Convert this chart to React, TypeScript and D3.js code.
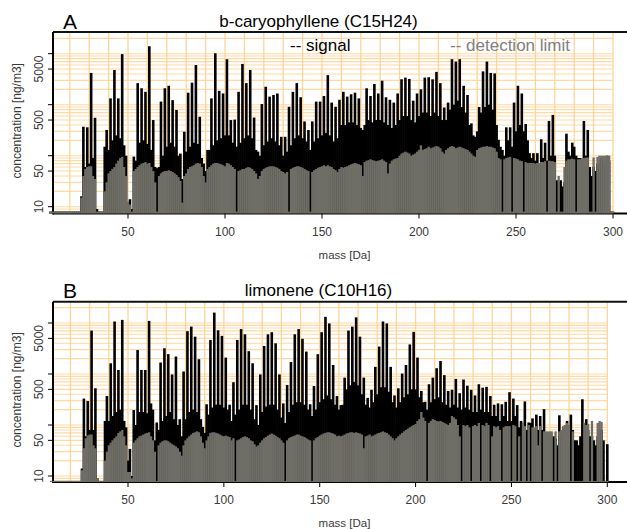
import React from "react";
import * as d3 from "d3";

// masses start at 10 Da, one value per integer mass up to 300 Da
const massStart = 10;

const signalA = [
  8, 8, 8, 8, 8, 8, 8, 8, 8, 8,
  8, 8, 8, 8, 8, 8, 16, 370, 60, 360,
  70, 4200, 90, 555, 9, 8, 8, 8, 150, 320,
  130, 1330, 200, 4800, 250, 1330, 220, 9800, 160, 100,
  12, 14, 9, 96, 80, 2650, 180, 2100, 200, 1790,
  170, 14000, 130, 500, 60, 57, 60, 1150, 100, 2100,
  150, 2350, 180, 1230, 150, 790, 100, 110, 35, 295,
  120, 1720, 150, 2700, 180, 6000, 170, 580, 90, 70,
  50, 130, 130, 1330, 160, 10200, 200, 1870, 220, 1660,
  250, 7800, 250, 500, 180, 510, 150, 1790, 180, 6300,
  220, 2650, 250, 4800, 220, 560, 130, 120, 100, 1030,
  160, 2250, 190, 1440, 220, 1550, 190, 1660, 160, 235,
  100, 235, 120, 910, 160, 1790, 220, 2650, 250, 1400,
  220, 470, 190, 320, 130, 470, 190, 1150, 220, 1150,
  250, 1480, 280, 3800, 250, 1100, 190, 910, 220, 1250,
  400, 1790, 400, 1440, 450, 1600, 450, 1720, 400, 1330,
  350, 320, 400, 2100, 500, 1480, 450, 2550, 500, 1660,
  500, 2950, 450, 1400, 400, 1250, 350, 1100, 400, 1660,
  500, 3150, 600, 3400, 600, 3200, 500, 1200, 450, 1660,
  600, 2000, 700, 3400, 700, 3450, 600, 3150, 700, 4400,
  600, 2650, 500, 880, 500, 1100, 800, 7800, 1000, 7000,
  1200, 7800, 900, 2350, 700, 1550, 400, 430, 250, 235,
  300, 900, 700, 4500, 900, 7000, 1000, 4200, 800, 4100,
  400, 205, 150, 130, 100, 360, 200, 360, 150, 1100,
  300, 2350, 400, 1660, 300, 420, 200, 112, 90, 112,
  80, 112, 70, 210, 90, 180, 80, 480, 100, 630,
  100, 33, 30, 33, 25, 30, 270, 120, 100, 180,
  150, 100, 90, 90, 80, 480, 100, 320, 60, 40,
  60, 50, 70, 60, 90, 80, 70, 90, 80, 8,
  8,
];

const detectionA = [
  8, 8, 8, 8, 8, 8, 8, 8, 8, 8,
  8, 8, 8, 8, 8, 8, 15, 40, 55, 60,
  62, 62, 40, 35, 8, 8, 8, 8, 20, 30,
  45, 50, 55, 60, 70, 80, 90, 95, 60, 40,
  12, 11, 8, 50, 55, 60, 65, 70, 72, 75,
  70, 72, 60, 50, 30, 8, 40, 45, 48, 50,
  50, 52, 50, 48, 45, 42, 38, 32, 12, 40,
  45, 55, 60, 62, 65, 70, 72, 70, 60, 40,
  30, 55, 60, 65, 70, 72, 72, 70, 68, 65,
  62, 72, 70, 65, 60, 55, 8, 50, 52, 55,
  55, 58, 60, 58, 55, 50, 45, 35, 40, 50,
  55, 58, 60, 62, 62, 62, 60, 58, 55, 50,
  48, 45, 48, 8, 55, 58, 60, 62, 62, 60,
  58, 55, 52, 50, 8, 48, 52, 55, 58, 60,
  62, 65, 62, 65, 62, 60, 55, 52, 48, 55,
  60, 58, 60, 62, 65, 68, 70, 72, 70, 68,
  65, 40, 75, 80, 82, 85, 82, 80, 78, 80,
  82, 85, 80, 75, 45, 70, 80, 85, 88, 90,
  100, 110, 115, 120, 115, 110, 100, 105, 110, 120,
  130, 160, 130, 135, 140, 150, 140, 145, 150, 155,
  150, 140, 120, 110, 130, 140, 150, 155, 150, 140,
  145, 150, 145, 140, 135, 130, 120, 110, 100, 95,
  130, 140, 145, 150, 150, 155, 150, 150, 145, 140,
  120, 90, 85, 8, 85, 90, 92, 95, 8, 90,
  88, 85, 80, 78, 8, 75, 72, 72, 72, 72,
  70, 72, 72, 75, 75, 78, 8, 80, 78, 78,
  75, 8, 40, 8, 8, 60, 80, 85, 85, 88,
  85, 8, 85, 85, 90, 90, 92, 92, 8, 8,
  92, 8, 95, 100, 100, 100, 100, 102, 100, 8,
  8,
];

const signalB = [
  8, 8, 8, 8, 8, 8, 8, 8, 8, 8,
  8, 8, 8, 8, 8, 8, 14, 330, 60, 295,
  80, 7100, 80, 525, 9, 8, 8, 8, 120, 370,
  120, 1620, 150, 10700, 180, 1200, 200, 11500, 120, 90,
  20, 34, 10, 196, 100, 2950, 180, 1200, 180, 1200,
  170, 11000, 265, 200, 50, 112, 80, 1680, 120, 3200,
  150, 2450, 180, 980, 130, 2200, 100, 130, 60, 1120,
  130, 6900, 180, 8500, 200, 5400, 180, 1950, 130, 92,
  70, 255, 160, 4650, 220, 16000, 250, 7200, 250, 5600,
  220, 2100, 200, 250, 120, 690, 160, 4650, 200, 7600,
  250, 6000, 250, 2800, 200, 1620, 130, 245, 100, 980,
  180, 3550, 230, 6000, 250, 6600, 250, 4000, 200, 980,
  140, 265, 110, 610, 180, 1720, 250, 6000, 280, 7600,
  280, 4900, 250, 2750, 200, 255, 150, 580, 200, 2450,
  280, 6600, 320, 13200, 380, 9800, 320, 1500, 250, 370,
  200, 245, 250, 850, 500, 7100, 600, 8500, 700, 12900,
  600, 5400, 400, 850, 250, 340, 220, 490, 280, 1380,
  400, 3450, 550, 10700, 550, 9800, 450, 1380, 280, 380,
  220, 525, 280, 1020, 350, 1500, 400, 3800, 500, 6700,
  500, 2100, 350, 465, 280, 285, 200, 630, 280, 850,
  320, 1300, 350, 1800, 280, 950, 250, 465, 220, 490,
  250, 800, 220, 420, 200, 780, 220, 590, 200, 490,
  180, 380, 180, 630, 200, 540, 180, 560, 180, 370,
  150, 250, 150, 265, 120, 255, 150, 285, 120, 440,
  120, 330, 150, 245, 90, 120, 110, 290, 80, 112,
  110, 135, 80, 160, 80, 150, 80, 205, 70, 60,
  60, 60, 60, 55, 40, 155, 60, 90, 100, 120,
  100, 160, 80, 50, 50, 40, 60, 320, 100, 130,
  80, 60, 60, 50, 40, 60, 80, 80, 50, 8,
  42,
];

const detectionB = [
  8, 8, 8, 8, 8, 8, 8, 8, 8, 8,
  8, 8, 8, 8, 8, 8, 13, 35, 55, 62,
  65, 65, 40, 35, 9, 8, 8, 8, 20, 30,
  40, 45, 50, 55, 60, 70, 75, 80, 60, 40,
  12, 12, 9, 45, 50, 55, 60, 62, 65, 68,
  70, 72, 60, 50, 30, 8, 40, 45, 48, 50,
  50, 48, 45, 42, 40, 38, 35, 30, 25, 40,
  50, 55, 60, 65, 70, 72, 75, 72, 60, 45,
  35, 50, 60, 70, 72, 72, 70, 68, 65, 62,
  60, 62, 60, 58, 50, 55, 8, 50, 52, 55,
  58, 60, 58, 55, 50, 48, 42, 38, 40, 45,
  50, 55, 58, 62, 65, 68, 65, 62, 58, 55,
  50, 45, 8, 50, 55, 58, 60, 62, 65, 65,
  62, 60, 58, 55, 52, 50, 8, 50, 55, 58,
  62, 65, 68, 70, 72, 72, 70, 68, 65, 60,
  62, 60, 62, 65, 68, 70, 72, 72, 70, 72,
  70, 68, 65, 35, 60, 62, 65, 60, 62, 65,
  68, 70, 72, 75, 72, 70, 65, 60, 55, 50,
  55, 60, 65, 70, 75, 80, 85, 90, 95, 100,
  105, 120, 130, 180, 140, 120, 8, 110, 120, 130,
  125, 120, 118, 120, 115, 110, 105, 100, 110, 150,
  140, 130, 100, 60, 8, 100, 95, 100, 90, 8,
  95, 100, 95, 110, 8, 100, 95, 110, 100, 8,
  60, 95, 90, 95, 80, 8, 90, 95, 95, 95,
  8, 100, 95, 8, 60, 8, 110, 95, 8, 100,
  8, 90, 90, 95, 40, 95, 8, 75, 75, 75,
  75, 75, 8, 75, 8, 75, 80, 95, 100, 110,
  100, 8, 75, 8, 8, 8, 8, 8, 110, 100,
  105, 8, 120, 8, 8, 110, 120, 115, 8, 8,
  8,
];

const xTicks = [50, 100, 150, 200, 250, 300];
const yTicks = [10, 50, 100, 500, 1000, 5000, 10000];
const yTickLabels = [10, 50, 500, 5000];

const panels = [
  { letter: "A", title: "b-caryophyllene (C15H24)", signal: signalA, detection: detectionA, top: 32, bottom: 213.5, y10: 206.7, x50: 128, x300: 613, legend: true },
  { letter: "B", title: "limonene (C10H16)", signal: signalB, detection: detectionB, top: 301.7, bottom: 482, y10: 476, x50: 128, x300: 607.3, legend: false },
];

const FONT = "'Liberation Sans', Arial, sans-serif";
const GRAY = "#6f6e66";
const GRID_H = "#ffdaa6";
const GRID_V = "#ffd49a";
const W = 627;
const H = 529;
const LEFT = 53;

function Panel({ p }: { p: typeof panels[number] }) {
  const x = d3.scaleLinear().domain([50, 300]).range([p.x50, p.x300]);
  const y = d3.scaleLog().domain([10, 10000]).range([p.y10, p.y10 - 153]);
  const yc = (v: number) => Math.max(p.top, y(v));

  const hGrid: number[] = [];
  for (let e = 0; e <= 4; e++) {
    for (let k = 1; k <= 9; k++) {
      const v = k * Math.pow(10, e);
      const py = y(v);
      if (py > p.top + 0.5 && py < p.bottom - 0.5) hGrid.push(v);
    }
  }
  const vGrid = d3.range(20, 301, 10);
  const gridRight = x(300);
  const bw = 2.6;
  const gw = 2.3;

  return (
    <g>
      {hGrid.map((v) => (
        <line key={"h" + v} x1={LEFT} x2={gridRight} y1={y(v)} y2={y(v)} stroke={GRID_H} strokeWidth={1.1} />
      ))}
      {vGrid.map((m) => (
        <line key={"v" + m} x1={x(m)} x2={x(m)} y1={p.top} y2={p.bottom} stroke={GRID_V} strokeWidth={1.3} />
      ))}
      <line x1={LEFT} x2={W} y1={p.top} y2={p.top} stroke="#111" strokeWidth={2} />
      <line x1={LEFT} x2={W} y1={p.bottom} y2={p.bottom} stroke="#000" strokeWidth={2} />
      <line x1={LEFT} x2={LEFT} y1={p.top} y2={p.bottom + 1} stroke="#000" strokeWidth={2} />
      {p.signal.map((v, i) => {
        const m = massStart + i;
        const top = yc(v);
        return <rect key={"s" + m} x={x(m) - bw / 2} width={bw} y={top} height={Math.max(0, p.bottom - top)} fill="#000" />;
      })}
      {p.detection.map((v, i) => {
        const m = massStart + i;
        const top = yc(v);
        return <rect key={"d" + m} x={x(m) - gw / 2} width={gw} y={top} height={Math.max(0, p.bottom - top)} fill={GRAY} />;
      })}
      {yTicks.map((v) => (
        <line key={"yt" + v} x1={LEFT - 5} x2={LEFT} y1={y(v)} y2={y(v)} stroke="#000" strokeWidth={1} />
      ))}
      {yTickLabels.map((v) => (
        <text key={"yl" + v} transform={`translate(43,${y(v)}) rotate(-90)`} textAnchor="middle" fontSize={12} fill="#3a3a3a" fontFamily={FONT}>
          {v}
        </text>
      ))}
      {xTicks.map((m) => (
        <g key={"xt" + m}>
          <line x1={x(m)} x2={x(m)} y1={p.bottom} y2={p.bottom + 5} stroke="#000" strokeWidth={1} />
          <text x={x(m)} y={p.bottom + 22} textAnchor="middle" fontSize={12} fill="#3a3a3a" fontFamily={FONT}>
            {m}
          </text>
        </g>
      ))}
      <text x={344.5} y={p.bottom + 45} textAnchor="middle" fontSize={11.5} fill="#3a3a3a" fontFamily={FONT}>
        mass [Da]
      </text>
      <text transform={`translate(21,${(p.top + p.bottom) / 2 - 2}) rotate(-90)`} textAnchor="middle" fontSize={12} fill="#3a3a3a" fontFamily={FONT}>
        concentration [ng/m3]
      </text>
      <text x={63} y={p.top - 3.5} fontSize={21} fill="#000" fontFamily={FONT}>
        {p.letter}
      </text>
      <text x={318.5} y={p.top - 5.5} textAnchor="middle" fontSize={17} fill="#000" fontFamily={FONT}>
        {p.title}
      </text>
      {p.legend && (
        <g>
          <text x={290} y={51} fontSize={17} fill="#000" fontFamily={FONT}>-- signal</text>
          <text x={450} y={51} fontSize={17} fill="#808080" fontFamily={FONT}>-- detection limit</text>
        </g>
      )}
    </g>
  );
}

export default function App() {
  return (
    <svg width={W} height={H} style={{ position: "absolute", left: 0, top: 0, background: "#fff" }}>
      <rect width={W} height={H} fill="#fff" />
      {panels.map((p) => (
        <Panel key={p.letter} p={p} />
      ))}
    </svg>
  );
}
